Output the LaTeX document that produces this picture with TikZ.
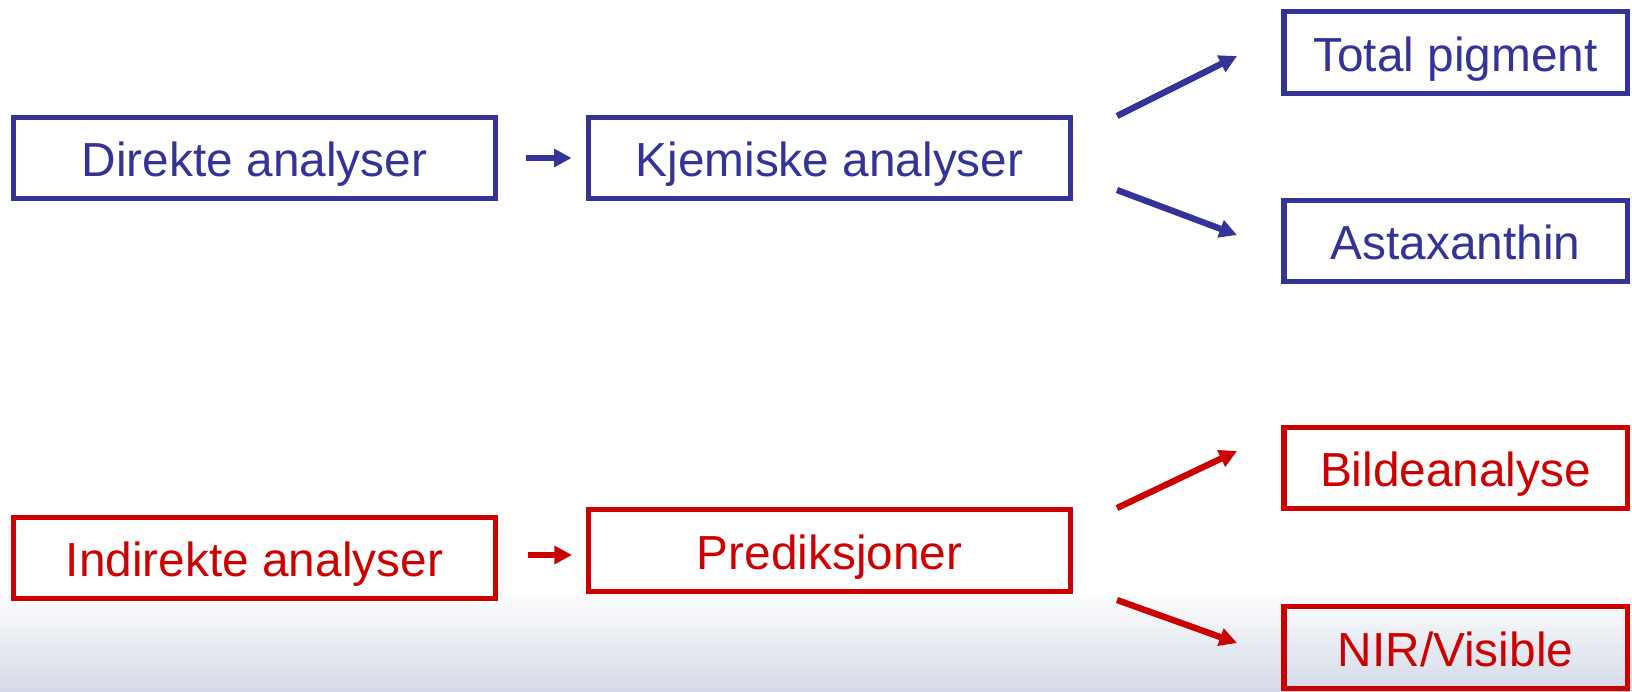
\documentclass[tikz,border=0pt]{standalone}
\usepackage{fontspec}
\setmainfont{Liberation Sans}
\usetikzlibrary{arrows.meta}
\definecolor{dblue}{RGB}{51,51,153}
\definecolor{dred}{RGB}{204,0,0}
\definecolor{fadeblue}{RGB}{212,218,231}
\begin{document}
\begin{tikzpicture}[x=0.02cm,y=-0.02cm,
  box/.style={draw, rectangle, line width=3.1pt, inner sep=0pt,
    font=\fontsize{27.2}{32}\selectfont, minimum height=1.63cm,
    text height=21.5pt, text depth=0pt},
  bluebox/.style={box, draw=dblue, text=dblue},
  redbox/.style={box, draw=dred, text=dred},
  wide/.style={minimum width=9.65cm},
  narrow/.style={minimum width=6.87cm},
  conn/.style={line width=3.6pt, -{Triangle[length=10pt,width=10pt]}},
  blueconn/.style={conn, draw=dblue},
  redconn/.style={conn, draw=dred}]
\useasboundingbox (0,0) rectangle (1632,691);
\shade[top color=white, bottom color=fadeblue] (0,590) rectangle (1632,691);

% blue part
\node[bluebox, wide] (dir) at (254.5,158) {Direkte analyser};
\node[bluebox, wide] (kje) at (829.5,158) {Kjemiske analyser};
\node[bluebox, narrow] (tot) at (1455.5,52.5) {Total pigment};
\node[bluebox, narrow] (ast) at (1455.5,241) {Astaxanthin};

\draw[blueconn, shorten <=0.56cm, shorten >=0.28cm] (dir.east) -- (kje.west);
\coordinate (ka1) at (1117,116);
\coordinate (ka2) at (1237,56);
\coordinate (kb1) at (1117,190);
\coordinate (kb2) at (1237,235);
\draw[blueconn] (ka1) -- (ka2);
\draw[blueconn] (kb1) -- (kb2);

% red part
\node[redbox, wide] (ind) at (254.5,558) {Indirekte analyser};
\node[redbox, wide] (pre) at (829.5,550.5) {Prediksjoner};
\node[redbox, narrow] (bil) at (1455.5,468) {Bildeanalyse};
\node[redbox, narrow] (nir) at (1455.5,647.5) {NIR/Visible};

\coordinate (ia) at (528,555);
\coordinate (ib) at (572,555);
\draw[redconn] (ia) -- (ib);
\coordinate (pa1) at (1117,508);
\coordinate (pa2) at (1237,451);
\coordinate (pb1) at (1117,600);
\coordinate (pb2) at (1237,643);
\draw[redconn] (pa1) -- (pa2);
\draw[redconn] (pb1) -- (pb2);
\end{tikzpicture}
\end{document}
